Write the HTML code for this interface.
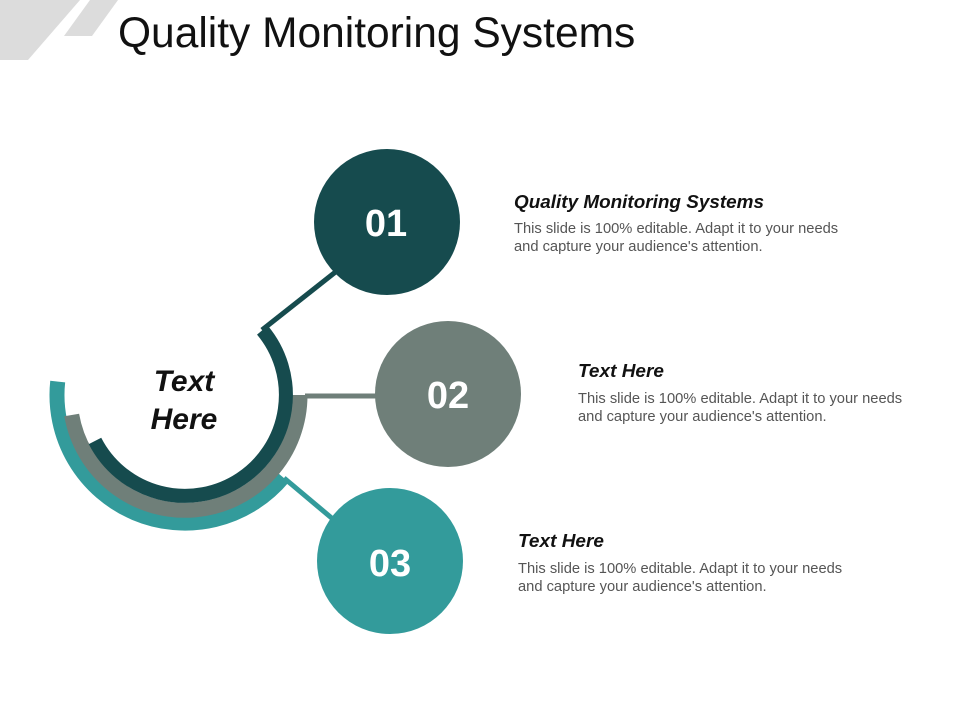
<!DOCTYPE html>
<html><head><meta charset="utf-8"><style>
body{margin:0;width:960px;height:720px;background:#fff;overflow:hidden;font-family:"Liberation Sans",sans-serif}
</style></head><body>
<svg width="960" height="720" viewBox="0 0 960 720" xmlns="http://www.w3.org/2000/svg" font-family="Liberation Sans, sans-serif">
<polygon points="0,0 80,0 28,60 0,60" fill="#dcdcdc"/>
<polygon points="90,0 118,0 92,36 64,36" fill="#dcdcdc"/>
<text x="118" y="47" font-size="42.5" fill="#111">Quality Monitoring Systems</text>
<g fill="none" stroke-linecap="butt">
<path d="M283.1,477.3 A128,128 0 0 1 57.7,381.6" stroke="#339b9b" stroke-width="15"/>
<path d="M300,395 A115,115 0 0 1 71.7,415" stroke="#6f7f79" stroke-width="15"/>
<path d="M262.4,330.1 A101,101 0 1 1 95,440.9" stroke="#164b4e" stroke-width="14"/>
</g>
<line x1="262" y1="330" x2="338" y2="270" stroke="#164b4e" stroke-width="5"/>
<line x1="305" y1="396" x2="380" y2="396" stroke="#6f7f79" stroke-width="5"/>
<line x1="284" y1="478" x2="334" y2="520" stroke="#339b9b" stroke-width="5"/>
<circle cx="387" cy="222" r="73" fill="#164b4e"/>
<circle cx="448" cy="394" r="73" fill="#6f7f79"/>
<circle cx="390" cy="561" r="73" fill="#339b9b"/>
<g font-weight="bold" font-size="38" fill="#fff" text-anchor="middle">
<text x="386" y="236">01</text><text x="448" y="408">02</text><text x="390" y="576">03</text>
</g>
<g font-weight="bold" font-style="italic" font-size="30" fill="#111" text-anchor="middle">
<text x="184" y="391">Text</text><text x="184" y="429">Here</text>
</g>
<g font-size="14.7" fill="#555">
<text x="514" y="208" font-weight="bold" font-style="italic" font-size="18" fill="#111" textLength="250" lengthAdjust="spacingAndGlyphs">Quality Monitoring Systems</text>
<text x="514" y="233">This slide is 100% editable. Adapt it to your needs</text>
<text x="514" y="251">and capture your audience's attention.</text>
<text x="578" y="377" font-weight="bold" font-style="italic" font-size="18" fill="#111" textLength="86" lengthAdjust="spacingAndGlyphs">Text Here</text>
<text x="578" y="403">This slide is 100% editable. Adapt it to your needs</text>
<text x="578" y="421">and capture your audience's attention.</text>
<text x="518" y="547" font-weight="bold" font-style="italic" font-size="18" fill="#111" textLength="86" lengthAdjust="spacingAndGlyphs">Text Here</text>
<text x="518" y="573">This slide is 100% editable. Adapt it to your needs</text>
<text x="518" y="591">and capture your audience's attention.</text>
</g>
</svg>
</body></html>
